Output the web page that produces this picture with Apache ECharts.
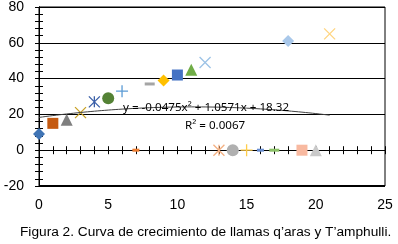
<!DOCTYPE html>
<html>
<head>
<meta charset="utf-8">
<script src="https://cdn.jsdelivr.net/npm/echarts@6/dist/echarts.min.js"></script>
<style>
  html, body { margin: 0; padding: 0; background: #fff; }
  #chart { width: 398px; height: 244px; }
</style>
</head>
<body>
<div id="chart"></div>
<script>
// edad (x) y valor (y) de cada punto, una serie por punto como en Excel
var ages = [0, 1, 2, 3, 4, 5, 6, 7, 8, 9, 10, 11, 12, 13, 14, 15, 16, 17, 18, 19, 20, 21];
var values = [9, 15, 17, 21, 27, 29, 33, 0, 37, 39, 42, 45, 49, 0, 0, 0, 0, 0, 61, 0, 0, 65];
// tendencia polinómica: y = c0 + c1 x + c2 x²
var trendCoef = [18.32, 1.0571, -0.0475];
var trendRange = [0, 21];
var xTicks = [0, 25, 5];
var yTicks = [-20, 80, 20];

var X_PATH = 'path://M0,0L10,10M10,0L0,10';
var STAR_PATH = 'path://M0,0L10,10M10,0L0,10M5,0L5,10';
var PLUS_PATH = 'path://M5,0L5,10M0,5L10,5';

var markers = [
  ['diamond', 12, '#3f74b5', true],
  ['rect', 11, '#c55a11', true],
  ['triangle', 12, '#7f7f7f', true],
  [X_PATH, 11, '#c9a227', false],
  [STAR_PATH, 11, '#3a5fa8', false],
  ['circle', 12, '#548235', true],
  [PLUS_PATH, 12, '#5b9bd5', false],
  ['rect', [7, 3], '#ed7d31', true],
  ['rect', [10, 3], '#a5a5a5', true],
  ['diamond', 12, '#ffc000', true],
  ['rect', 11, '#4472c4', true],
  ['triangle', 12, '#70ad47', true],
  [X_PATH, 11, '#9dc3e6', false],
  [STAR_PATH, 11, '#f4b183', false],
  ['circle', 12, '#b0b0b0', true],
  [PLUS_PATH, 12, '#ffcd4a', false],
  ['rect', [7, 3], '#698ed0', true],
  ['rect', [10, 3], '#8cc168', true],
  ['diamond', 12, '#a9c8ea', true],
  ['rect', 11, '#f8b9a0', true],
  ['triangle', 12, '#c9c9c9', true],
  [X_PATH, 11, '#ffd580', false]
];

function trendData() {
  var pts = [];
  for (var x = trendRange[0]; x <= trendRange[1] + 1e-9; x += 0.25) {
    pts.push([x, trendCoef[0] + trendCoef[1] * x + trendCoef[2] * x * x]);
  }
  return pts;
}

var labelFont = { color: '#000', fontSize: 14, fontFamily: 'Liberation Sans' };

function makeX(idx, inside) {
  return {
    type: 'value', gridIndex: idx, min: xTicks[0], max: xTicks[1], interval: xTicks[2],
    axisLine: { show: true, onZero: true, lineStyle: { color: '#000', width: 1 } },
    axisTick: { show: true, inside: inside, length: 4, lineStyle: { color: '#000' } },
    minorTick: { show: true, splitNumber: 5, length: 4, lineStyle: { color: '#000' } },
    axisLabel: Object.assign({ show: !inside, margin: 12 }, labelFont),
    splitLine: { show: false }
  };
}

function makeY(idx, inside) {
  return {
    type: 'value', gridIndex: idx, min: yTicks[0], max: yTicks[1], interval: yTicks[2],
    axisLine: { show: true, onZero: true, lineStyle: { color: '#000', width: 1 } },
    axisTick: { show: true, inside: inside, length: 4, lineStyle: { color: '#000' } },
    minorTick: { show: true, splitNumber: 5, length: 4, lineStyle: { color: '#000' } },
    axisLabel: Object.assign({ show: !inside, margin: 15 }, labelFont),
    splitLine: { show: !inside, lineStyle: { color: '#000', width: 1 } }
  };
}

var series = ages.map(function (a, i) {
  var m = markers[i], filled = m[3];
  return {
    type: 'scatter', xAxisIndex: 0, yAxisIndex: 0, z: 3,
    symbol: m[0], symbolSize: m[1],
    itemStyle: filled ? { color: m[2], opacity: 1 } :
      { color: 'none', borderColor: m[2], borderWidth: 1.3, opacity: 1 },
    data: [[a, values[i]]]
  };
});

series.push({
  type: 'line', xAxisIndex: 0, yAxisIndex: 0, z: 4,
  showSymbol: false, smooth: false,
  lineStyle: { color: '#404040', width: 1 },
  data: trendData(),
  markLine: {
    silent: true, symbol: 'none', label: { show: false },
    lineStyle: { color: '#000', width: 2, type: 'solid' },
    data: [{ yAxis: yTicks[0] }]
  }
});

// serie vacía para que la segunda rejilla (marcas hacia dentro) se dibuje
series.push({ type: 'scatter', xAxisIndex: 1, yAxisIndex: 1, data: [] });

var gridBox = { left: 39, right: 13, top: 7, bottom: 58 };

var option = {
  animation: false,
  grid: [
    Object.assign({ show: true, borderColor: '#000', borderWidth: 1, backgroundColor: 'transparent' }, gridBox),
    Object.assign({}, gridBox)
  ],
  xAxis: [makeX(0, false), makeX(1, true)],
  yAxis: [makeY(0, false), makeY(1, true)],
  series: series,
  graphic: [
    {
      type: 'text', left: 123, top: 102, z: 10,
      style: { text: 'y = -0.0475x² + 1.0571x + 18.32', fill: '#000', fontSize: 11.6, fontFamily: 'Noto Sans' }
    },
    {
      type: 'text', left: 185, top: 120, z: 10,
      style: { text: 'R² = 0.0067', fill: '#000', fontSize: 11.6, fontFamily: 'Noto Sans' }
    },
    {
      type: 'text', left: 20, top: 225, z: 10,
      style: { text: 'Figura 2. Curva de crecimiento de llamas q\u2019aras y T\u2019amphulli.', fill: '#000', fontSize: 13.7, fontFamily: 'Liberation Sans' }
    }
  ]
};

var myChart = echarts.init(document.getElementById('chart'));
myChart.setOption(option);
</script>
</body>
</html>
